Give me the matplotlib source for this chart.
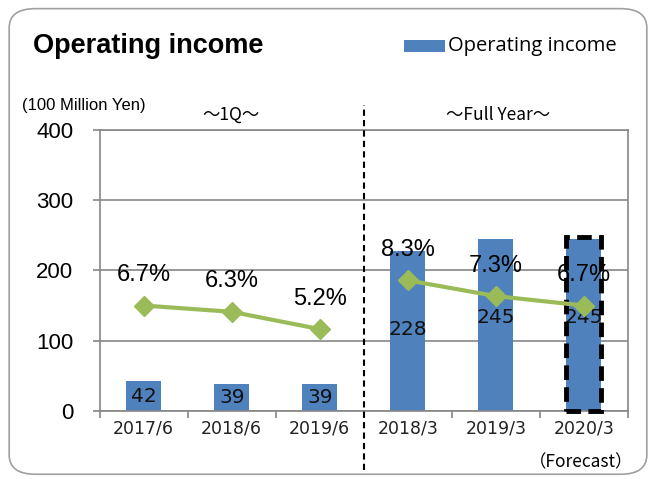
import matplotlib.pyplot as plt
import numpy as np
from matplotlib.patches import FancyBboxPatch, Rectangle

plt.rcParams['font.family'] = ['Liberation Sans', 'DejaVu Sans']

# data
categories = ['2017/6', '2018/6', '2019/6', '2018/3', '2019/3', '2020/3']
income = [42, 39, 39, 228, 245, 245]
margin = [6.7, 6.3, 5.2, 8.3, 7.3, 6.7]
margin_labels = ['6.7%', '6.3%', '5.2%', '8.3%', '7.3%', '6.7%']

blue = '#4F81BD'
green = '#9BBB59'
gray = '#868686'
cjk = ['Noto Sans CJK JP', 'DejaVu Sans']

fig = plt.figure(figsize=(6.56, 4.80), dpi=100)
ax = fig.add_axes([0.152, 0.144, 0.805, 0.585])

# rounded frame
frame = FancyBboxPatch((0.014, 0.012), 0.972, 0.97, boxstyle='round,pad=0,rounding_size=0.04',
                       transform=fig.transFigure, fc='none', ec='#A0A0A0', lw=1.2)
fig.patches.append(frame)

x = np.arange(len(categories))
ax.bar(x, income, width=0.4, color=blue, zorder=2)

ax.set_xlim(-0.5, 5.5)
ax.set_ylim(0, 400)
ax.set_yticks([0, 100, 200, 300, 400])
ax.yaxis.grid(True, color=gray, lw=1.2, zorder=0)
for s in ax.spines.values():
    s.set_color(gray)
    s.set_linewidth(1.2)
ax.tick_params(axis='y', colors=gray, length=5, width=1.2, labelsize=16,
               labelcolor='black', pad=14)
ax.set_xticks(x)
ax.set_xticklabels(categories, fontsize=12.5, family='DejaVu Sans', color='#222222')
ax.tick_params(axis='x', length=0, pad=6)
ax.set_xticks(np.arange(-0.5, 6, 1), minor=True)
ax.tick_params(axis='x', which='minor', length=5, width=1.2, color=gray)

# bar value labels
for i, v in enumerate(income):
    yy = v / 2 if v < 100 else v - 112
    ax.text(i, yy, str(v), ha='center', va='center', fontsize=14.5,
            family='DejaVu Sans', color='#111111', zorder=5)

# margin line on secondary axis
ax2 = ax.twinx()
ax2.set_ylim(0, 400 / 22.4)
ax2.axis('off')
ax2.plot(x[:3], margin[:3], color=green, lw=3, marker='D', ms=10, zorder=4)
ax2.plot(x[3:], margin[3:], color=green, lw=3, marker='D', ms=10, zorder=4)
for i, (m, lab) in enumerate(zip(margin, margin_labels)):
    ax2.annotate(lab, (i, m), xytext=(0, 22), textcoords='offset points',
                 ha='center', va='center', fontsize=17)

# forecast box
ax.add_patch(Rectangle((4.8, 0), 0.4, 248, fill=False, ec='black', lw=3.5,
                       ls=(0, (3, 1.5)), zorder=6, clip_on=False))

# divider
ax.plot([2.5, 2.5], [-0.21, 1.09], color='black', lw=1.5, ls=(0, (3, 2)),
        transform=ax.get_xaxis_transform(), clip_on=False, zorder=6)

# texts
fig.text(0.05, 0.905, 'Operating income', fontsize=19.5, fontweight='bold', va='center')
fig.patches.append(Rectangle((0.616, 0.891), 0.062, 0.026, transform=fig.transFigure,
                             fc=blue, ec='none'))
fig.text(0.683, 0.904, 'Operating income', fontsize=14.5, family='Open Sans', va='center')
fig.text(0.034, 0.781, '(100 Million Yen)', fontsize=12, va='center')
fig.text(0.352, 0.761, '～1Q～', fontsize=12.5, family=cjk, ha='center', va='center')
fig.text(0.760, 0.761, '～Full Year～', fontsize=12.5, family=cjk, ha='center', va='center')
fig.text(0.965, 0.036, '（Forecast）', fontsize=12.5, family=cjk, ha='right', va='center')

fig.savefig('out.png', dpi=100)
